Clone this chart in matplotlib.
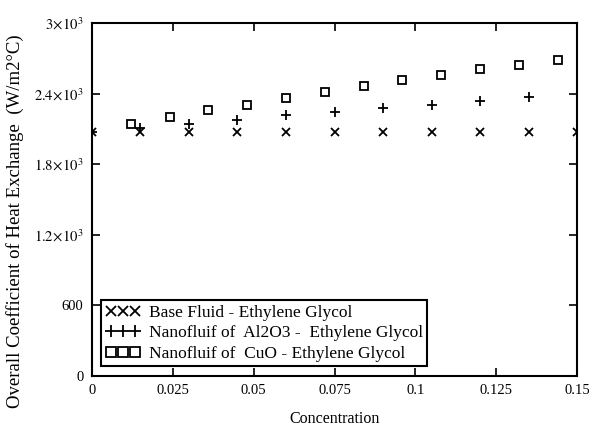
import matplotlib.pyplot as plt
import numpy as np

plt.rcParams['font.family'] = ['Liberation Serif', 'DejaVu Serif']
plt.rcParams['mathtext.fontset'] = 'stix'

# base fluid (x markers)
base_x = [0, 0.015, 0.03, 0.045, 0.06, 0.075, 0.09, 0.105, 0.12, 0.135, 0.15]
base_y = [2073, 2073, 2073, 2073, 2073, 2073, 2073, 2073, 2073, 2073, 2073]

# Al2O3 nanofluid (+ markers)
al_x = [0, 0.015, 0.03, 0.045, 0.06, 0.075, 0.09, 0.105, 0.12, 0.135]
al_y = [2078, 2107, 2145, 2180, 2215, 2245, 2275, 2305, 2340, 2375]

# CuO nanofluid (square markers)
cuo_x = [0.012, 0.024, 0.036, 0.048, 0.06, 0.072, 0.084, 0.096, 0.108, 0.12, 0.132, 0.144]
cuo_y = [2141, 2203, 2260, 2308, 2367, 2416, 2466, 2515, 2555, 2606, 2648, 2685]

x_ticks = [0, 0.025, 0.05, 0.075, 0.1, 0.125, 0.15]
x_labels = ['0', '0.025', '0.05', '0.075', '0.1', '0.125', '0.15']
y_ticks = [0, 600, 1200, 1800, 2400, 3000]
y_labels = ['0', '600', r'$1.2\!\times\!10^3$', r'$1.8\!\times\!10^3$',
            r'$2.4\!\times\!10^3$', r'$3\!\times\!10^3$']

fig = plt.figure(figsize=(5.89, 4.28), dpi=100)
ax = fig.add_axes([0.156, 0.1215, 0.824, 0.8245])

ax.plot(base_x, base_y, linestyle='none', marker='x', color='black',
        markersize=6, markeredgewidth=1.3,
        label='Base Fluid - Ethylene Glycol')
ax.plot(al_x, al_y, linestyle='none', marker='+', color='black',
        markersize=7, markeredgewidth=1.3,
        label='Nanofluif of  Al2O3 -  Ethylene Glycol')
ax.plot(cuo_x, cuo_y, linestyle='none', marker='s', color='black',
        markerfacecolor='none', markersize=6, markeredgewidth=1.3,
        label='Nanofluif of  CuO - Ethylene Glycol')

ax.set_xlim(0, 0.15)
ax.set_ylim(0, 3000)
ax.set_xticks(x_ticks)
ax.set_xticklabels(x_labels)
ax.set_yticks(y_ticks)
ax.set_yticklabels(y_labels)
ax.tick_params(direction='in', length=6, width=1.2, labelsize=10.5,
               top=True, right=True, pad=6)
for s in ax.spines.values():
    s.set_linewidth(1.5)

ax.set_xlabel('Concentration', fontsize=11.5, labelpad=10)
ax.set_ylabel('Overall Coefficient of Heat Exchange  (W/m2°C)', fontsize=13.5)
ax.yaxis.set_label_coords(-0.14, 0.44)

leg = ax.legend(loc='lower left', bbox_to_anchor=(0.019, 0.028), numpoints=3,
                fontsize=12.5, fancybox=False, framealpha=1, edgecolor='black',
                handlelength=2.0, handletextpad=0.5, borderpad=0.25,
                labelspacing=0.25, borderaxespad=0, markerscale=1.15)
leg.get_frame().set_linewidth(1.5)

fig.savefig('out.png', dpi=100)
